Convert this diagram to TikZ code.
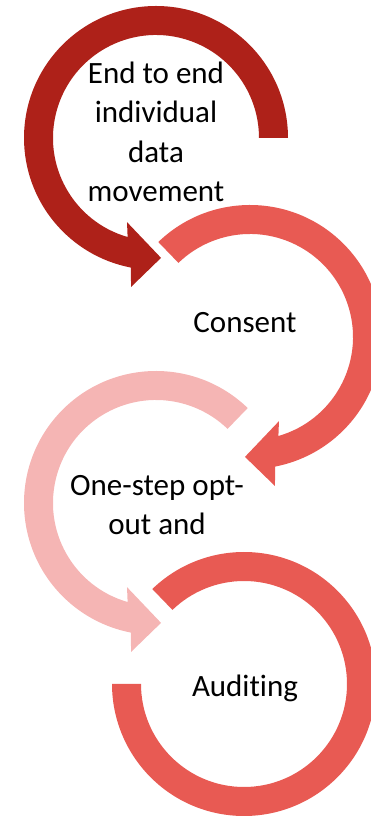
\documentclass[tikz,border=0pt]{standalone}
\usepackage{fontspec}
\setmainfont{Carlito}[Ligatures=NoCommon]
\begin{document}
\begin{tikzpicture}[x=1pt,y=1pt,
  lbl/.style={inner sep=0pt,align=center,font=\fontsize{31}{39.5}\selectfont,text=black}]
\definecolor{darkred}{RGB}{174,33,25}
\definecolor{midred}{RGB}{232,90,83}
\definecolor{pinkred}{RGB}{245,181,180}
\useasboundingbox (0,0) rectangle (370,817);

% ring centres
\coordinate (c1) at (156,679);
\coordinate (c2) at (250,480);
\coordinate (c3) at (156,314);
\coordinate (c4) at (244,133);

% step 1: counter-clockwise ring ending in an arrowhead at the bottom
\begin{scope}[shift={(c1)}]
  \fill[darkred] (0:132) arc[start angle=0,end angle=259,radius=132]
    -- (260.5:151) -- (272.4:120) -- (251:89) -- (254:103)
    arc[start angle=254,end angle=0,radius=103] -- cycle;
\end{scope}

% step 2: clockwise ring ending in an arrowhead at the bottom
\begin{scope}[shift={(c2)}]
  \fill[midred] (134:132) arc[start angle=134,end angle=-79,radius=132]
    -- (-80.5:151) -- (-92.4:120) -- (-71:89) -- (-74:103)
    arc[start angle=-74,end angle=134,radius=103] -- cycle;
\end{scope}

% step 3: counter-clockwise ring ending in an arrowhead at the bottom
\begin{scope}[shift={(c3)}]
  \fill[pinkred] (46:132) arc[start angle=46,end angle=259,radius=132]
    -- (260.5:151) -- (272.4:120) -- (251:89) -- (254:103)
    arc[start angle=254,end angle=46,radius=103] -- cycle;
\end{scope}

% step 4: open ring without arrowhead
\begin{scope}[shift={(c4)}]
  \fill[midred] (134:132) arc[start angle=134,end angle=-180,radius=132]
    -- (180:103) arc[start angle=-180,end angle=134,radius=103] -- cycle;
\end{scope}

% labels (base anchor sits on the last line)
\node[lbl,anchor=base] (t1) at (156,615) {End to end\\individual\\data\\movement};
\node[lbl,anchor=base] (t2) at (245,484) {Consent};
\node[lbl,anchor=base] (t3) at (157,282) {One-step opt-\\out and};
\node[lbl,anchor=base] (t4) at (245,120) {Auditing};
\end{tikzpicture}
\end{document}
